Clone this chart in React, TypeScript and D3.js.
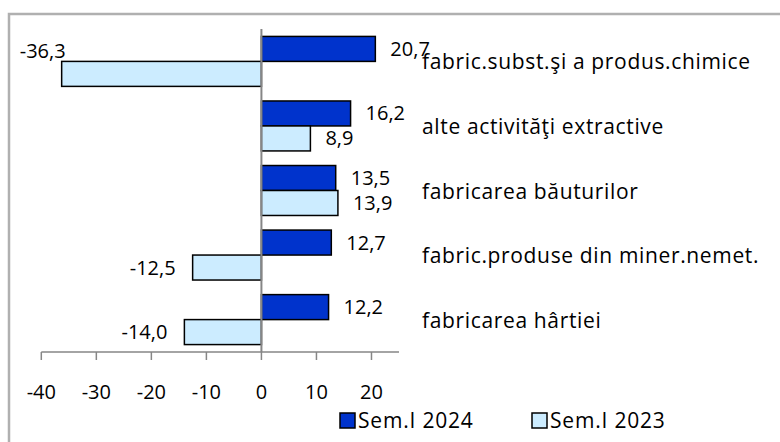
import React from "react";
import * as d3 from "d3";

const categories = [
  "fabric.subst.şi a produs.chimice",
  "alte activităţi extractive",
  "fabricarea băuturilor",
  "fabric.produse din miner.nemet.",
  "fabricarea hârtiei",
];
const sem2024 = [20.7, 16.2, 13.5, 12.7, 12.2];
const sem2023 = [-36.3, 8.9, 13.9, -12.5, -14.0];
const seriesNames = ["Sem.I 2024", "Sem.I 2023"];
const xTicks = [-40, -30, -20, -10, 0, 10, 20];

const colors = ["#0033CC", "#CCECFF"];
const font = "'Open Sans', sans-serif";
const fs = 20;
const fmt = (v: number) => v.toFixed(1).replace(".", ",");

const App = () => {
  const width = 780;
  const height = 442;

  const x = d3.scaleLinear().domain([-40, 25]).range([41.3, 399]);
  const y = d3
    .scaleBand()
    .domain(categories)
    .range([29, 352])
    .paddingInner(0.226)
    .paddingOuter(0.115);
  const sub = d3
    .scaleBand()
    .domain(seriesNames)
    .range([0, y.bandwidth()]);

  const series = [sem2024, sem2023];

  return (
    <svg
      width={width}
      height={height}
      style={{ position: "absolute", left: 0, top: 0, background: "#fff" }}
      fontFamily={font}
    >
      <rect x={9} y={14} width={820} height={500} fill="#fff" stroke="#b0b0b0" strokeWidth={2.5} />

      {series.map((vals, s) =>
        vals.map((v, i) => {
          const y0 = (y(categories[i]) ?? 0) + (sub(seriesNames[s]) ?? 0);
          return (
            <rect
              key={`${s}-${i}`}
              x={Math.min(x(0), x(v))}
              y={y0}
              width={Math.abs(x(v) - x(0))}
              height={sub.bandwidth()}
              fill={colors[s]}
              stroke="#000"
              strokeWidth={1.5}
            />
          );
        })
      )}

      {/* zero line */}
      <line x1={x(0)} x2={x(0)} y1={29} y2={352} stroke="#868686" strokeWidth={2} />

      {/* x axis */}
      <g>
        <line x1={x(-40)} x2={x(25)} y1={352} y2={352} stroke="#868686" strokeWidth={1.5} />
        {xTicks.map((t) => (
          <g key={t}>
            <line x1={x(t)} x2={x(t)} y1={352} y2={360} stroke="#868686" strokeWidth={1.5} />
            <text x={x(t)} y={399} textAnchor="middle" fontSize={fs} fill="#000">
              {t}
            </text>
          </g>
        ))}
      </g>

      {/* value labels */}
      {series.map((vals, s) =>
        vals.map((v, i) => {
          const yc = (y(categories[i]) ?? 0) + (sub(seriesNames[s]) ?? 0) + sub.bandwidth() / 2;
          let lx = v >= 0 ? x(v) + 15 : x(v) - 17;
          let ly = yc + 7;
          const anchor = v >= 0 ? "start" : "end";
          if (s === 1 && v < -30) {
            lx = x(v) + 4;
            ly = yc - sub.bandwidth() + 9;
          }
          return (
            <text key={`l${s}-${i}`} x={lx} y={ly} textAnchor={anchor} fontSize={fs} fill="#000">
              {fmt(v)}
            </text>
          );
        })
      )}

      {/* category labels */}
      {categories.map((c) => (
        <text
          key={c}
          x={422}
          y={(y(c) ?? 0) + y.bandwidth() / 2 + 8}
          fontSize={21}
          letterSpacing={0.65}
          fill="#000"
        >
          {c}
        </text>
      ))}

      {/* legend */}
      {seriesNames.map((n, s) => {
        const lx = s === 0 ? 340 : 532;
        return (
          <g key={n}>
            <rect x={lx} y={413} width={15} height={15} fill={colors[s]} stroke="#000" strokeWidth={1.5} />
            <text x={lx + 18} y={428} fontSize={21} letterSpacing={0.8} fill="#000">
              {n}
            </text>
          </g>
        );
      })}
    </svg>
  );
};

export default App;
